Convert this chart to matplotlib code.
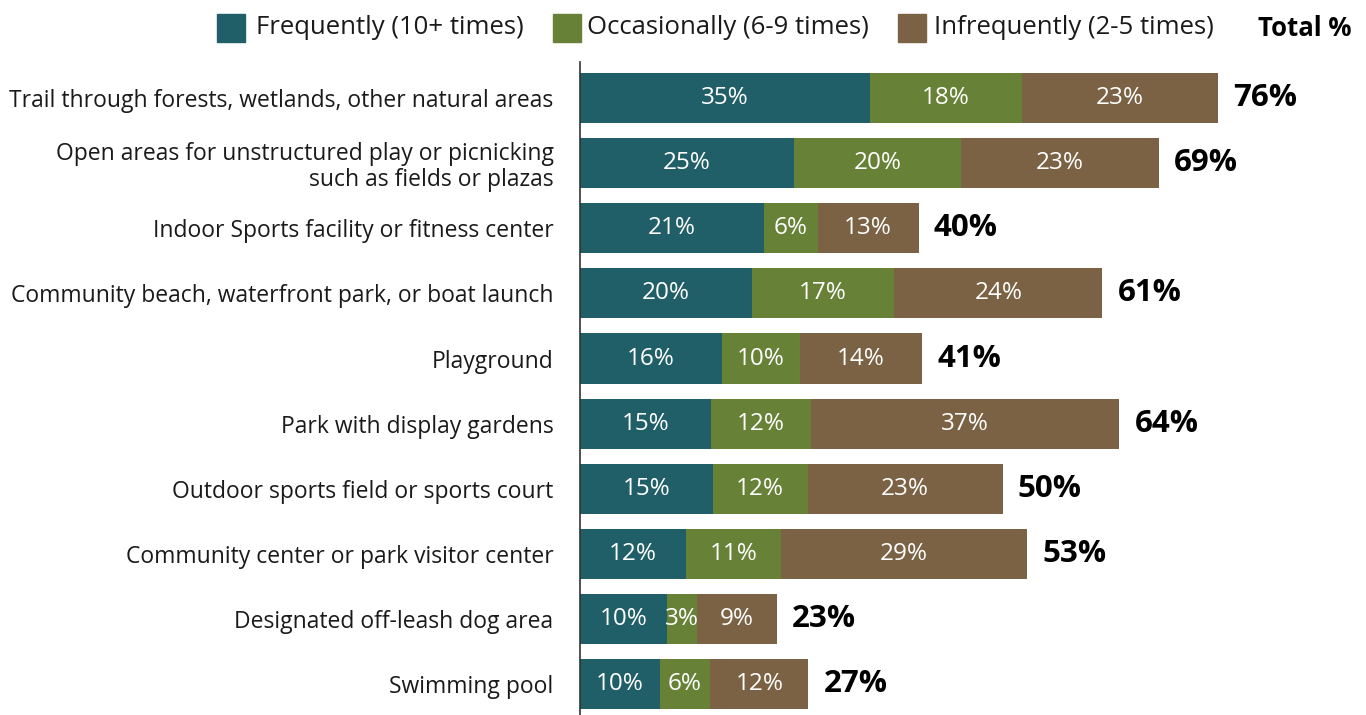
import matplotlib
matplotlib.use("Agg")
import matplotlib.pyplot as plt
from matplotlib.patches import Rectangle

plt.rcParams['font.family'] = ['Open Sans', 'DejaVu Sans']

categories = ["Trail through forests, wetlands, other natural areas",
              "Open areas for unstructured play or picnicking\nsuch as fields or plazas",
              "Indoor Sports facility or fitness center",
              "Community beach, waterfront park, or boat launch",
              "Playground",
              "Park with display gardens",
              "Outdoor sports field or sports court",
              "Community center or park visitor center",
              "Designated off-leash dog area",
              "Swimming pool"]

# bar lengths (percent)
frequently = [34.5, 25.5, 21.9, 20.5, 16.9, 15.6, 15.8, 12.6, 10.4, 9.5]
occasionally = [18.1, 19.9, 6.4, 16.9, 9.3, 11.9, 11.3, 11.3, 3.5, 6.0]
infrequently = [23.3, 23.5, 12.0, 24.8, 14.5, 36.7, 23.2, 29.3, 9.5, 11.7]

# printed labels
freq_labels = ["35%", "25%", "21%", "20%", "16%", "15%", "15%", "12%", "10%", "10%"]
occ_labels = ["18%", "20%", "6%", "17%", "10%", "12%", "12%", "11%", "3%", "6%"]
infreq_labels = ["23%", "23%", "13%", "24%", "14%", "37%", "23%", "29%", "9%", "12%"]
total_labels = ["76%", "69%", "40%", "61%", "41%", "64%", "50%", "53%", "23%", "27%"]

series_names = ["Frequently (10+ times)", "Occasionally (6-9 times)", "Infrequently (2-5 times)"]
colors = ["#215f68", "#678237", "#7b6244"]

fig = plt.figure(figsize=(13.66, 7.15), dpi=100)
ax = fig.add_axes([580 / 1366, 0, 1 - 580 / 1366, 1 - 62 / 715])

y = list(range(len(categories)))
left = [0] * len(categories)
for vals, labs, col in zip([frequently, occasionally, infrequently],
                           [freq_labels, occ_labels, infreq_labels], colors):
    bars = ax.barh(y, vals, left=left, height=0.77, color=col)
    for b, lab in zip(bars, labs):
        ax.text(b.get_x() + b.get_width() / 2, b.get_y() + b.get_height() / 2, lab,
                ha='center', va='center', color='white', fontsize=17.5)
    left = [l + v for l, v in zip(left, vals)]

for yi, tot, lab in zip(y, left, total_labels):
    ax.annotate(lab, xy=(tot, yi), xytext=(11, 0), textcoords='offset points',
                ha='left', va='center', fontsize=22.5, fontweight='bold', color='black')

ax.set_xlim(0, 786 / 8.4)
ax.set_ylim(9.47, -0.55)
ax.set_yticks(y)
ax.set_yticklabels(categories, fontsize=16.5, color='#1a1a1a', linespacing=1.1)
ax.tick_params(axis='y', length=0, pad=19)
ax.set_xticks([])
for s in ['top', 'right', 'bottom']:
    ax.spines[s].set_visible(False)
ax.spines['left'].set_color('#333333')
ax.spines['left'].set_linewidth(1.2)

# legend across the top
leg_x = [217, 553, 898]
text_x = [256, 587, 934]
for lx, tx, name, col in zip(leg_x, text_x, series_names, colors):
    fig.patches.append(Rectangle((lx / 1366, 1 - 42 / 715), 28 / 1366, 28 / 715,
                                 transform=fig.transFigure, color=col))
    fig.text(tx / 1366, 1 - 28 / 715, name, ha='left', va='center', fontsize=18.5, color='#1a1a1a')
fig.text(1352 / 1366, 1 - 28 / 715, "Total %", ha='right', va='center', fontsize=18.5,
         fontweight='bold', color='black')

fig.savefig("out.png", dpi=100)
